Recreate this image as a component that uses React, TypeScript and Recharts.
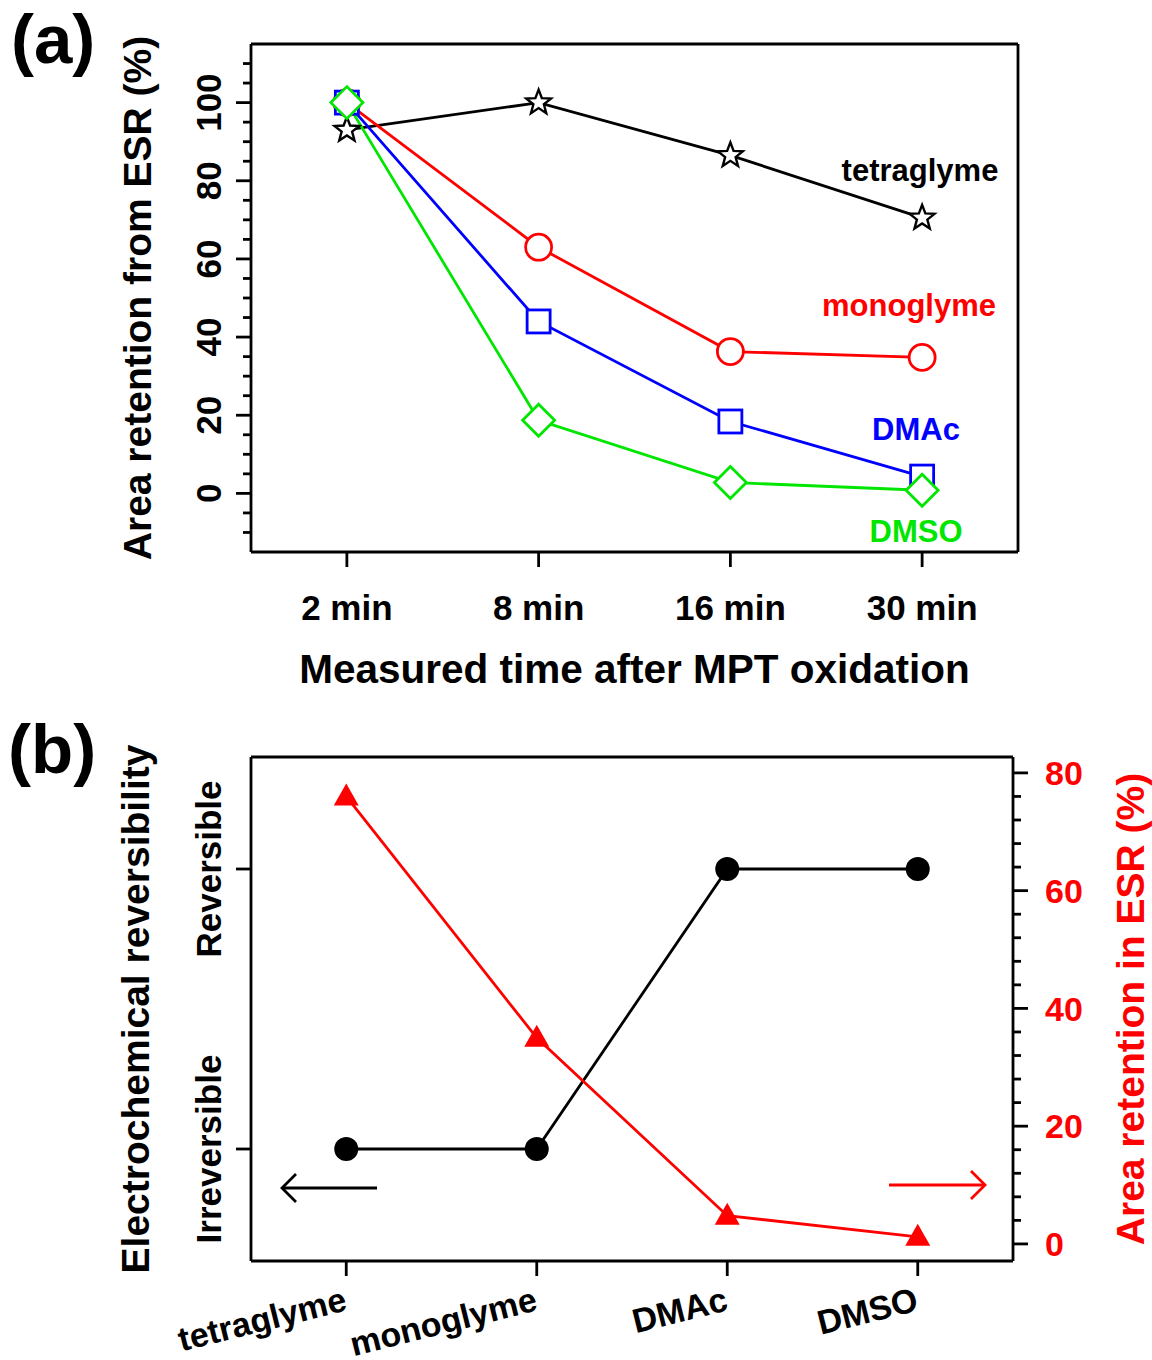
import React from 'react';
import { LineChart, Line, XAxis, YAxis } from 'recharts';

const FONT = '"Liberation Sans", Arial, Helvetica, sans-serif';

// panel (a): ESR area retention vs. time
const times = ['2 min', '8 min', '16 min', '30 min'];
const tetraglyme = [93, 100, 86.5, 70.5];
const monoglyme = [100, 63, 36.3, 34.8];
const dmac = [100, 44, 18.4, 4.3];
const dmso = [100, 18.7, 2.8, 0.8];
const retentionTicks = [-10, -5, 0, 5, 10, 15, 20, 25, 30, 35, 40, 45, 50, 55, 60, 65, 70, 75, 80, 85, 90, 95, 100, 105, 110];

// panel (b): reversibility vs. ESR retention per solvent
const solvents = ['tetraglyme', 'monoglyme', 'DMAc', 'DMSO'];
const reversibility = [0, 0, 1, 1];
const esrRetention = [76, 35, 4.8, 1.2];
const reversibilityTicks = [0, 1];
const reversibilityLabels = ['Irreversible', 'Reversible'];
const esrTicks = [0, 4, 8, 12, 16, 20, 24, 28, 32, 36, 40, 44, 48, 52, 56, 60, 64, 68, 72, 76, 80];

const timeData = times.map((time, i) => ({
  time,
  tetraglyme: tetraglyme[i],
  monoglyme: monoglyme[i],
  dmac: dmac[i],
  dmso: dmso[i],
}));

const solventData = solvents.map((solvent, i) => ({
  solvent,
  reversibility: reversibility[i],
  esr: esrRetention[i],
}));

const RED = '#ff0000';
const BLUE = '#0000ff';
const GREEN = '#00e600';
const AXIS_W = 2.8;
const LINE_W = 2.8;

interface DotProps {
  cx?: number;
  cy?: number;
  index?: number;
}

function StarDot({ cx, cy, index }: DotProps) {
  if (cx == null || cy == null) return null;
  const pts: string[] = [];
  for (let k = 0; k < 10; k++) {
    const r = k % 2 === 0 ? 13 : 5.5;
    const a = -Math.PI / 2 + (k * Math.PI) / 5;
    pts.push(`${cx + r * Math.cos(a)},${cy + r * Math.sin(a)}`);
  }
  return <polygon key={index} points={pts.join(' ')} fill="#fff" stroke="#000" strokeWidth={2.4} />;
}

function CircleDot({ cx, cy, index }: DotProps) {
  if (cx == null || cy == null) return null;
  return <circle key={index} cx={cx} cy={cy} r={13} fill="#fff" stroke={RED} strokeWidth={LINE_W} />;
}

function SquareDot({ cx, cy, index }: DotProps) {
  if (cx == null || cy == null) return null;
  return <rect key={index} x={cx - 11.5} y={cy - 11.5} width={23} height={23} fill="#fff" stroke={BLUE} strokeWidth={LINE_W} />;
}

function DiamondDot({ cx, cy, index }: DotProps) {
  if (cx == null || cy == null) return null;
  const d = 16;
  return (
    <polygon
      key={index}
      points={`${cx},${cy - d} ${cx + d},${cy} ${cx},${cy + d} ${cx - d},${cy}`}
      fill="#fff"
      stroke={GREEN}
      strokeWidth={LINE_W}
    />
  );
}

function FilledCircleDot({ cx, cy, index }: DotProps) {
  if (cx == null || cy == null) return null;
  return <circle key={index} cx={cx} cy={cy} r={12} fill="#000" />;
}

function TriangleDot({ cx, cy, index }: DotProps) {
  if (cx == null || cy == null) return null;
  return (
    <polygon
      key={index}
      points={`${cx},${cy - 13} ${cx + 12.5},${cy + 9} ${cx - 12.5},${cy + 9}`}
      fill={RED}
    />
  );
}

interface TickProps {
  x?: number;
  y?: number;
  payload?: { value: any };
}

function RetentionTick({ x = 0, y = 0, payload }: TickProps) {
  const v = payload?.value as number;
  const major = v % 20 === 0;
  const tx = x - 43;
  return (
    <g>
      <line x1={x} x2={x - (major ? 15 : 8)} y1={y} y2={y} stroke="#000" strokeWidth={AXIS_W} />
      {major && (
        <text
          x={tx}
          y={y}
          dy="0.36em"
          transform={`rotate(-90, ${tx}, ${y})`}
          textAnchor="middle"
          fontSize={35}
          fontWeight="bold"
          fontFamily={FONT}
          fill="#000"
        >
          {v}
        </text>
      )}
    </g>
  );
}

function TimeTick({ x = 0, y = 0, payload }: TickProps) {
  return (
    <g>
      <line x1={x} x2={x} y1={y} y2={y + 15} stroke="#000" strokeWidth={AXIS_W} />
      <text x={x} y={y + 68} textAnchor="middle" fontSize={35} fontWeight="bold" fontFamily={FONT} fill="#000">
        {payload?.value}
      </text>
    </g>
  );
}

function SolventTick({ x = 0, y = 0, payload }: TickProps) {
  const tx = x + 2;
  const ty = y + 49;
  return (
    <g>
      <line x1={x} x2={x} y1={y} y2={y + 15} stroke="#000" strokeWidth={AXIS_W} />
      <text
        x={tx}
        y={ty}
        transform={`rotate(-14, ${tx}, ${ty})`}
        textAnchor="end"
        fontSize={34}
        fontWeight="bold"
        fontFamily={FONT}
        fill="#000"
      >
        {payload?.value}
      </text>
    </g>
  );
}

function ReversibilityTick({ x = 0, y = 0, payload }: TickProps) {
  const v = payload?.value as number;
  const tx = x - 43;
  return (
    <g>
      <line x1={x} x2={x - 15} y1={y} y2={y} stroke="#000" strokeWidth={AXIS_W} />
      <text
        x={tx}
        y={y}
        dy="0.36em"
        transform={`rotate(-90, ${tx}, ${y})`}
        textAnchor="middle"
        fontSize={35}
        fontWeight="bold"
        fontFamily={FONT}
        fill="#000"
      >
        {reversibilityLabels[reversibilityTicks.indexOf(v)]}
      </text>
    </g>
  );
}

function EsrTick({ x = 0, y = 0, payload }: TickProps) {
  const v = payload?.value as number;
  const major = v % 20 === 0;
  return (
    <g>
      <line x1={x} x2={x + (major ? 15 : 8)} y1={y} y2={y} stroke="#000" strokeWidth={AXIS_W} />
      {major && (
        <text x={x + 32} y={y} dy="0.36em" textAnchor="start" fontSize={34} fontWeight="bold" fontFamily={FONT} fill={RED}>
          {v}
        </text>
      )}
    </g>
  );
}

const titleStyle = (fill: string, size: number) => ({
  textAnchor: 'middle' as const,
  fontSize: size,
  fontWeight: 'bold' as const,
  fontFamily: FONT,
  fill,
});

const axisLine = { stroke: '#000', strokeWidth: AXIS_W };

function PanelA() {
  return (
    <LineChart width={1152} height={700} data={timeData} margin={{ top: 43, right: 133, bottom: 0, left: 111 }}>
      <XAxis
        dataKey="time"
        scale="band"
        height={148}
        axisLine={axisLine}
        tickLine={false}
        tickSize={0}
        tickMargin={0}
        interval={0}
        tick={<TimeTick />}
        label={{ value: 'Measured time after MPT oxidation', position: 'insideBottom', offset: 17, style: titleStyle('#000', 40.5) }}
      />
      {/* top and right axes only draw the frame */}
      <XAxis xAxisId="top" dataKey="time" scale="band" orientation="top" height={1} axisLine={axisLine} tick={false} tickLine={false} />
      <YAxis
        type="number"
        domain={[-15, 115]}
        ticks={retentionTicks}
        width={140}
        axisLine={axisLine}
        tickLine={false}
        tickSize={0}
        tickMargin={0}
        interval={0}
        tick={<RetentionTick />}
        label={{ value: 'Area retention from ESR (%)', angle: -90, position: 'insideLeft', offset: 26, style: titleStyle('#000', 39) }}
      />
      <YAxis yAxisId="frame" orientation="right" type="number" domain={[-15, 115]} width={1} axisLine={axisLine} tick={false} tickLine={false} />
      <Line xAxisId="top" yAxisId="frame" dataKey="tetraglyme" stroke="none" dot={false} activeDot={false} legendType="none" isAnimationActive={false} />
      <Line dataKey="tetraglyme" stroke="#000" strokeWidth={LINE_W} dot={StarDot} isAnimationActive={false} />
      <Line dataKey="monoglyme" stroke={RED} strokeWidth={LINE_W} dot={CircleDot} isAnimationActive={false} />
      <Line dataKey="dmac" stroke={BLUE} strokeWidth={LINE_W} dot={SquareDot} isAnimationActive={false} />
      <Line dataKey="dmso" stroke={GREEN} strokeWidth={LINE_W} dot={DiamondDot} isAnimationActive={false} />
    </LineChart>
  );
}

function PanelB() {
  return (
    <LineChart width={1152} height={660} data={solventData} margin={{ top: 56, right: 0, bottom: 0, left: 111 }}>
      <XAxis
        dataKey="solvent"
        scale="band"
        height={99}
        axisLine={axisLine}
        tickLine={false}
        tickSize={0}
        tickMargin={0}
        interval={0}
        tick={<SolventTick />}
      />
      <XAxis xAxisId="top" dataKey="solvent" scale="band" orientation="top" height={1} axisLine={axisLine} tick={false} tickLine={false} />
      <YAxis
        yAxisId="state"
        type="number"
        domain={[-0.4, 1.4]}
        ticks={reversibilityTicks}
        width={140}
        axisLine={axisLine}
        tickLine={false}
        tickSize={0}
        tickMargin={0}
        interval={0}
        tick={<ReversibilityTick />}
        label={{ value: 'Electrochemical reversibility', angle: -90, position: 'insideLeft', offset: 24, style: titleStyle('#000', 39) }}
      />
      <YAxis
        yAxisId="esr"
        orientation="right"
        type="number"
        domain={[-2.9, 82.7]}
        ticks={esrTicks}
        width={139}
        axisLine={axisLine}
        tickLine={false}
        tickSize={0}
        tickMargin={0}
        interval={0}
        tick={<EsrTick />}
        label={{ value: 'Area retention in ESR (%)', angle: -90, position: 'insideRight', offset: 22, style: titleStyle(RED, 39) }}
      />
      <Line xAxisId="top" yAxisId="esr" dataKey="esr" stroke="none" dot={false} activeDot={false} legendType="none" isAnimationActive={false} />
      <Line yAxisId="state" dataKey="reversibility" stroke="#000" strokeWidth={LINE_W} dot={FilledCircleDot} isAnimationActive={false} />
      <Line yAxisId="esr" dataKey="esr" stroke={RED} strokeWidth={LINE_W} dot={TriangleDot} isAnimationActive={false} />
    </LineChart>
  );
}

function Annotations() {
  const label = { fontWeight: 'bold' as const, fontFamily: FONT };
  return (
    <svg width={1152} height={1360} style={{ position: 'absolute', left: 0, top: 0, pointerEvents: 'none' }}>
      <text x={11} y={63} fontSize={69} {...label} fill="#000">(a)</text>
      <text x={8} y={773} fontSize={69} {...label} fill="#000">(b)</text>
      <text x={920} y={181} textAnchor="middle" fontSize={31} {...label} fill="#000">tetraglyme</text>
      <text x={909} y={316} textAnchor="middle" fontSize={31} {...label} fill={RED}>monoglyme</text>
      <text x={916} y={440} textAnchor="middle" fontSize={31} {...label} fill={BLUE}>DMAc</text>
      <text x={916} y={542} textAnchor="middle" fontSize={31} {...label} fill={GREEN}>DMSO</text>
      <g stroke="#000" strokeWidth={LINE_W} fill="none">
        <line x1={282} y1={1188} x2={377} y2={1188} />
        <polyline points="296,1174 282,1188 296,1202" />
      </g>
      <g stroke={RED} strokeWidth={LINE_W} fill="none">
        <line x1={889} y1={1185} x2={985} y2={1185} />
        <polyline points="971,1171 985,1185 971,1199" />
      </g>
    </svg>
  );
}

export default function App() {
  return (
    <div style={{ position: 'absolute', left: 0, top: 0, width: 1152, height: 1360, background: '#fff', overflow: 'hidden' }}>
      <div style={{ position: 'absolute', left: 0, top: 0 }}>
        <PanelA />
      </div>
      <div style={{ position: 'absolute', left: 0, top: 700 }}>
        <PanelB />
      </div>
      <Annotations />
    </div>
  );
}
